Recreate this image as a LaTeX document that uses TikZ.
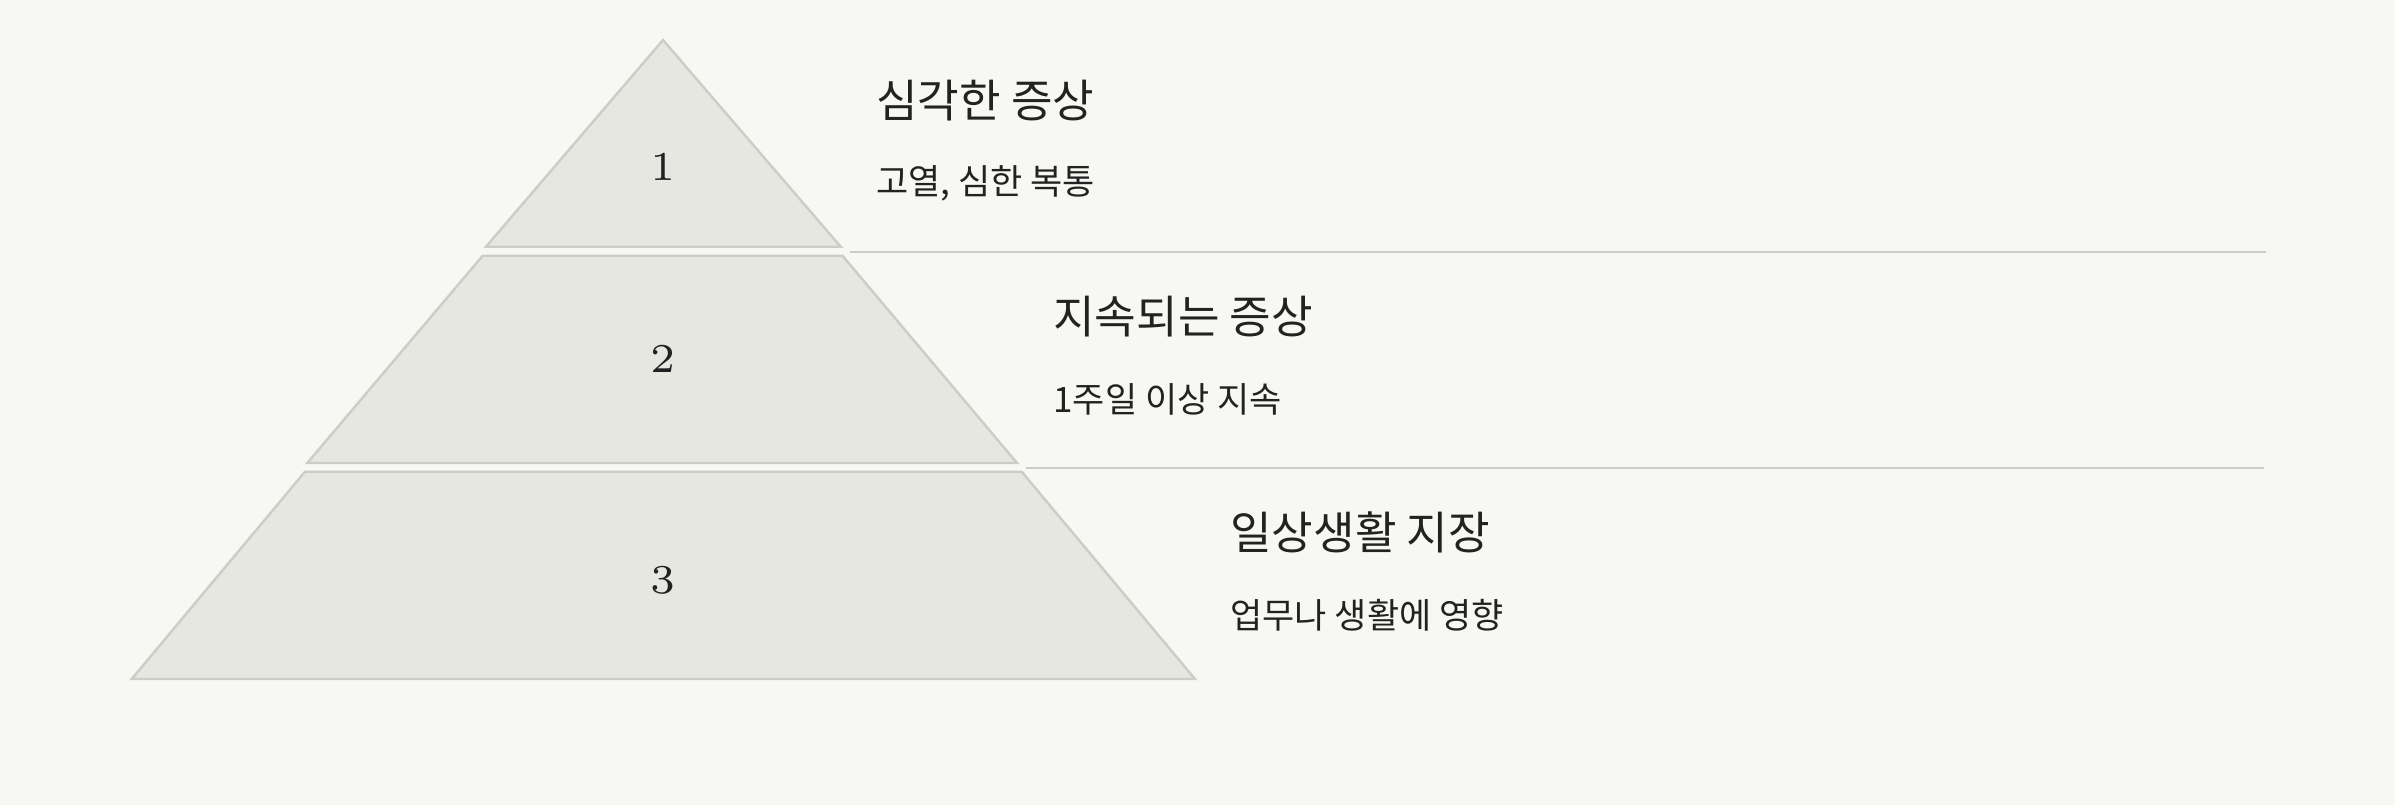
\documentclass[tikz,border=0pt]{standalone}
\usepackage{fontspec}
\newfontfamily\kr{Noto Sans CJK KR}
\newfontfamily\numfont[Extension=.otf]{lmroman6-regular}
\definecolor{bg}{HTML}{F7F7F4}
\definecolor{tierfill}{HTML}{E7E7E2}
\definecolor{tierline}{HTML}{CDCDC7}
\definecolor{txt}{HTML}{222222}
\tikzset{
  tier/.style={fill=tierfill,draw=tierline,line width=1.2pt,line join=miter},
  sep/.style={draw=tierline,line width=1.2pt},
  num/.style={text=txt,font=\numfont\fontsize{20.5}{24}\selectfont,inner sep=0pt,anchor=center},
  ttl/.style={text=txt,font=\kr\fontsize{22.6}{28}\selectfont,inner sep=0pt,anchor=base west},
  sub/.style={text=txt,font=\kr\fontsize{17.5}{21}\selectfont,inner sep=0pt,anchor=base west},
}
\begin{document}
\begin{tikzpicture}[x=0.5pt,y=-0.5pt]
\useasboundingbox (0,0) rectangle (2395,805);
\fill[bg] (0,0) rectangle (2395,805);
% tiers
\draw[tier] (663,40) -- (840.7,246.7) -- (486,246.7) -- cycle;
\draw[tier] (482.7,255.7) -- (842.5,255.7) -- (1017,463) -- (307.3,463) -- cycle;
\draw[tier] (305,471.7) -- (1021.7,471.7) -- (1195,679) -- (131.7,679) -- cycle;
% numbers
\node[num] (n1) at (663,167) {1};
\node[num] (n2) at (663,359) {2};
\node[num] (n3) at (663,580) {3};
% separators
\coordinate (s1a) at (850,251.7);
\coordinate (s1b) at (2265.5,251.7);
\coordinate (s2a) at (1026,467.7);
\coordinate (s2b) at (2264,467.7);
\draw[sep] (s1a) -- (s1b);
\draw[sep] (s2a) -- (s2b);
% texts
\node[ttl] (h1) at (876,117) {심각한 증상};
\node[sub] (d1) at (876,194) {고열, 심한 복통};
\node[ttl] (h2) at (1053,333) {지속되는 증상};
\node[sub] (d2) at (1053,412) {1주일 이상 지속};
\node[ttl] (h3) at (1230,549) {일상생활 지장};
\node[sub] (d3) at (1230,628) {업무나 생활에 영향};
\end{tikzpicture}
\end{document}
